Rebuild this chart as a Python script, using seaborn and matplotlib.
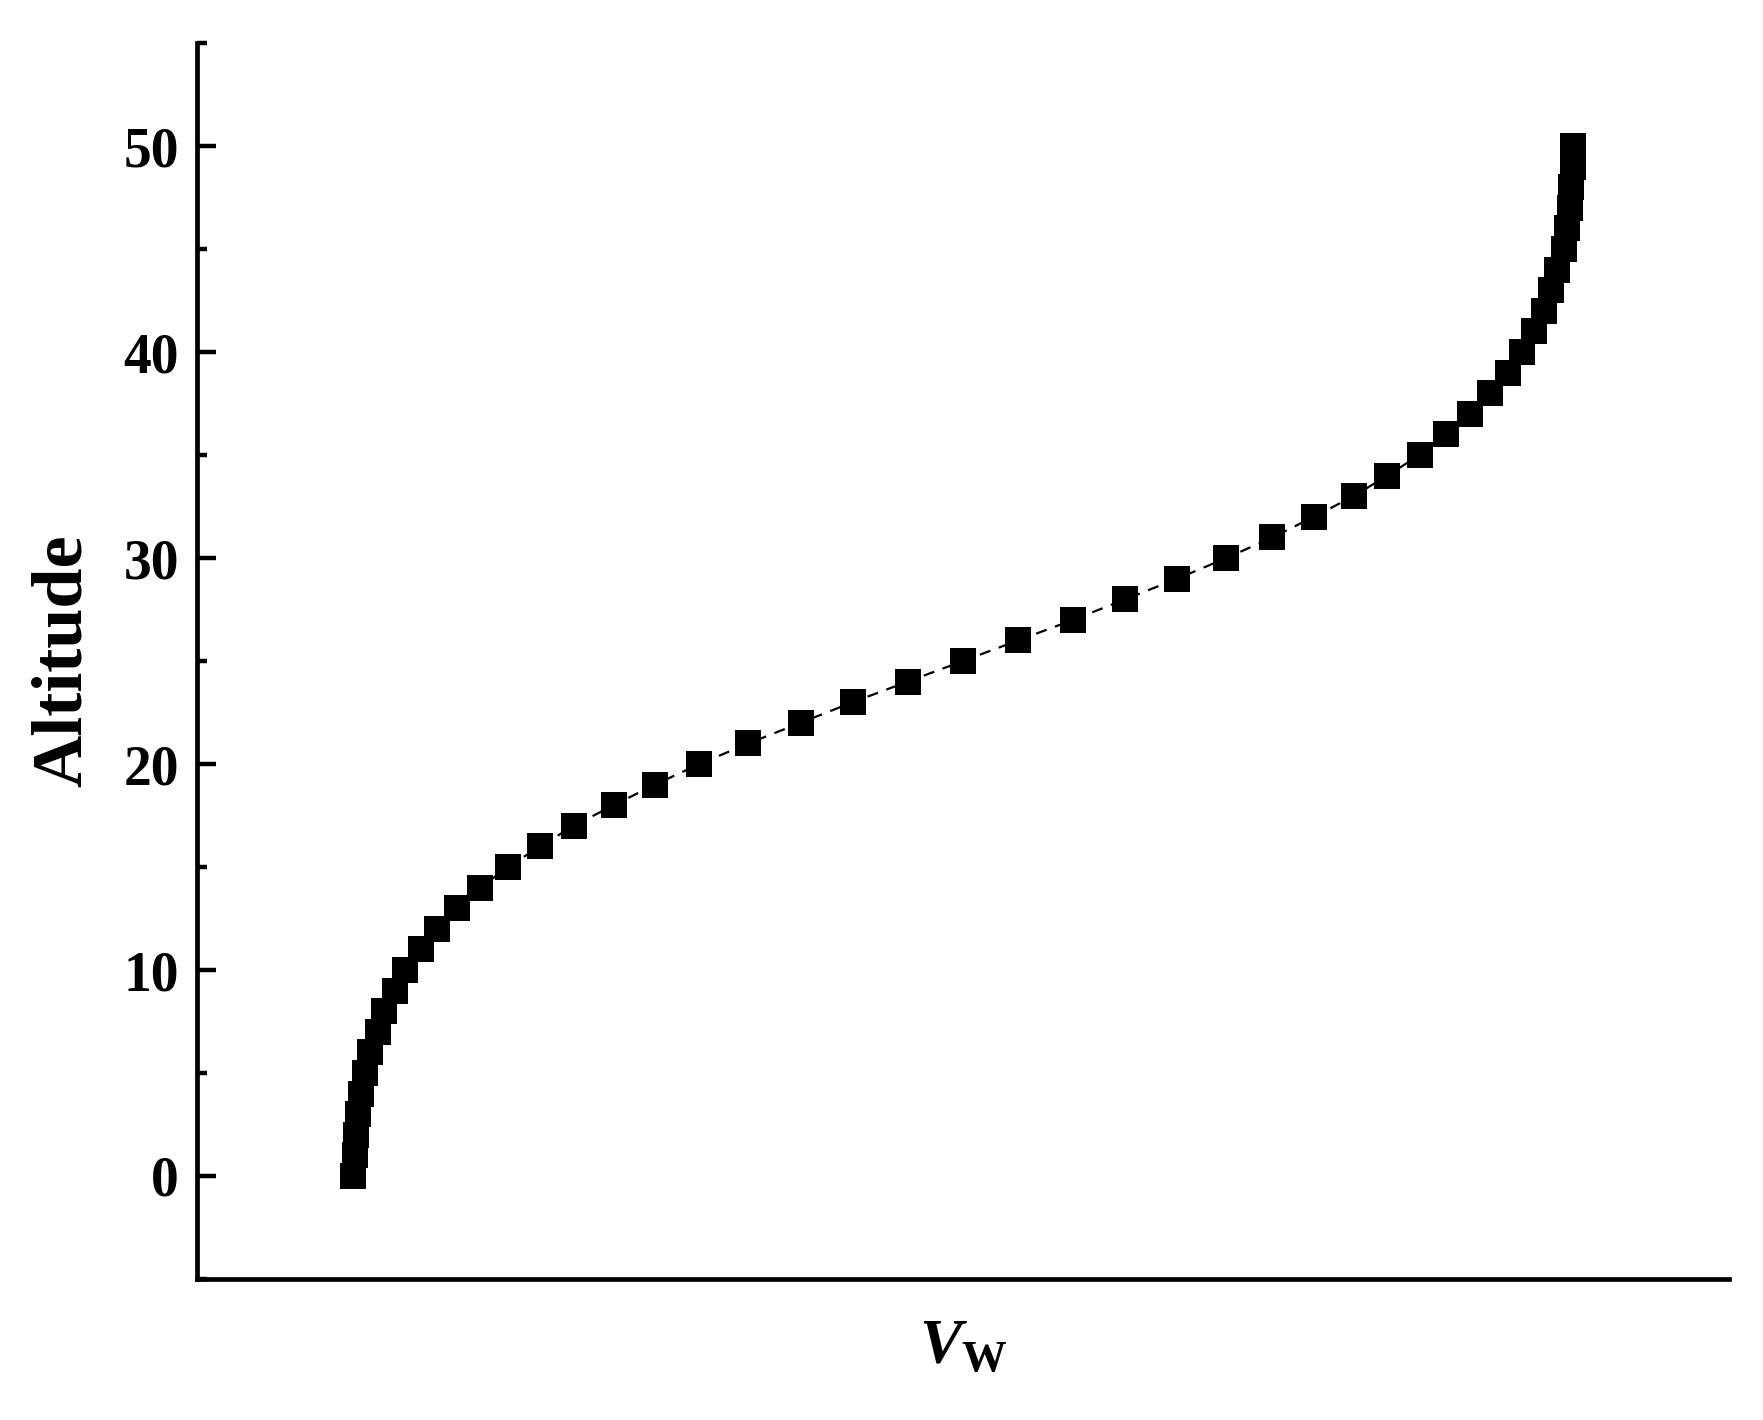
#!/usr/bin/env python
# -*- coding: utf-8 -*-

"""
Altitude against V_W, squares joined by a dashed line
"""

import numpy as np
import pandas as pd
import matplotlib
matplotlib.use('Agg')
import matplotlib.pyplot as plt
import seaborn as sns
from matplotlib.ticker import MultipleLocator


# altitude levels and the V_W value (arbitrary units)
altitude = list(range(0, 51))
v_w = [10.2, 10.3, 10.4, 10.5, 10.7, 11.0, 11.3, 11.8, 12.2, 12.9,
       13.6, 14.6, 15.7, 17.0, 18.5, 20.3, 22.4, 24.6, 27.2, 29.9,
       32.8, 36.0, 39.4, 42.8, 46.4, 50.0, 53.6, 57.2, 60.6, 64.0,
       67.2, 70.2, 72.9, 75.5, 77.7, 79.8, 81.5, 83.1, 84.4, 85.6,
       86.5, 87.3, 87.9, 88.4, 88.8, 89.2, 89.4, 89.6, 89.7, 89.8,
       89.8]
y_ticks = [0, 10, 20, 30, 40, 50]


def make_plot(df):
    sns.set_style('ticks')
    plt.rcParams['font.family'] = ['Liberation Serif', 'DejaVu Serif']
    plt.rcParams['mathtext.fontset'] = 'custom'
    plt.rcParams['mathtext.rm'] = 'Liberation Serif'
    plt.rcParams['mathtext.it'] = 'Liberation Serif:italic:bold'
    plt.rcParams['mathtext.bf'] = 'Liberation Serif:bold'
    # seaborn greys the text, the figure has it black
    plt.rcParams['text.color'] = 'black'
    plt.rcParams['axes.labelcolor'] = 'black'
    plt.rcParams['ytick.color'] = 'black'
    plt.rcParams['ytick.labelcolor'] = 'black'

    fig = plt.figure(figsize=(17.63, 14.2), dpi=100)
    ax = fig.add_axes([0.1117, 0.0993, 0.869, 0.8704])

    sns.lineplot(data=df, x='v_w', y='altitude', sort=False, estimator=None,
                 color='black', linestyle=(0, (5, 4)), linewidth=1.6,
                 marker='s', markersize=19, markeredgewidth=0,
                 markerfacecolor='black', ax=ax)

    ax.set_xlim(0, 100)
    ax.set_ylim(-5, 55)
    ax.set_xticks([])
    ax.set_yticks(y_ticks)
    ax.yaxis.set_minor_locator(MultipleLocator(5))

    sns.despine(ax=ax)
    for side in ['left', 'bottom']:
        ax.spines[side].set_linewidth(3.4)
        ax.spines[side].set_color('black')

    ax.tick_params(axis='y', which='major', direction='in', length=14, width=3.2,
                   pad=13, labelsize=40, color='black', labelcolor='black')
    ax.tick_params(axis='y', which='minor', direction='in', length=7, width=3.2,
                   color='black')
    for lab in ax.get_yticklabels():
        lab.set_fontweight('bold')

    ax.set_ylabel('Altitude', fontsize=52, fontweight='bold', labelpad=20,
                  color='black')
    ax.set_xlabel(r'$V_{\mathbf{W}}$', fontsize=46, labelpad=30, color='black')

    fig.savefig('out.png', dpi=100)
    plt.close(fig)


if __name__ == "__main__":
    data_df = pd.DataFrame({'altitude': altitude, 'v_w': v_w})
    make_plot(data_df)
